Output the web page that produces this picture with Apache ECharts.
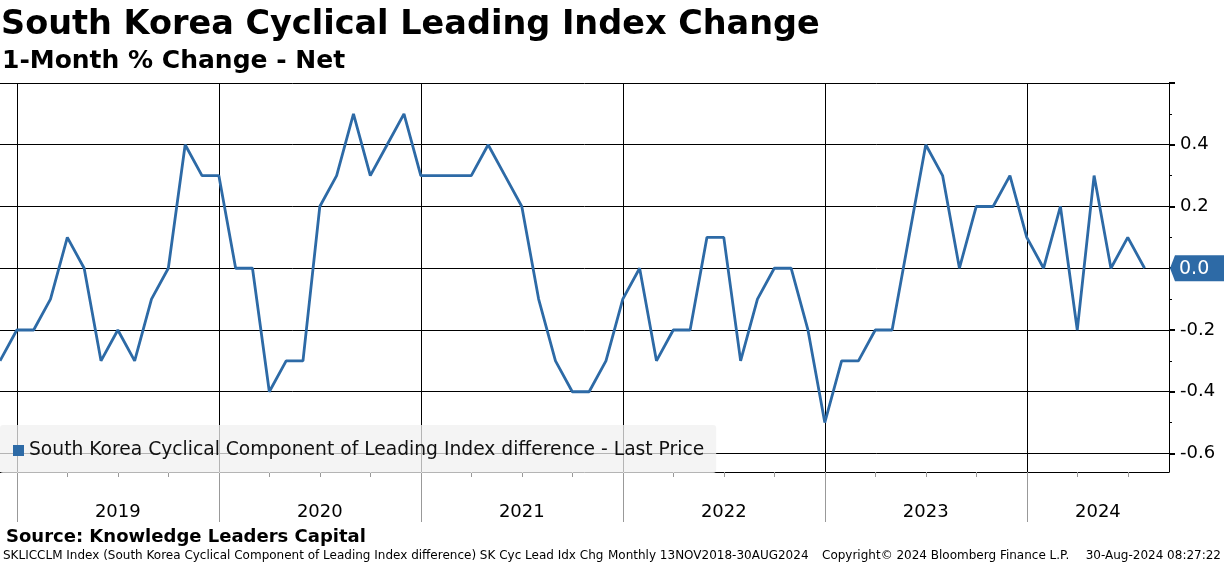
<!DOCTYPE html>
<html><head><meta charset="utf-8">
<script src="https://cdn.jsdelivr.net/npm/echarts@6/dist/echarts.min.js"></script>
<style>html,body{margin:0;padding:0;background:#fff}#c{width:1224px;height:566px}</style>
</head><body><div id="c"></div>
<script>
const titleText = 'South Korea Cyclical Leading Index Change';
const subtitleText = '1-Month % Change - Net';
const sourceText = 'Source: Knowledge Leaders Capital';
const footerLeft = 'SKLICCLM Index (South Korea Cyclical Component of Leading Index difference) SK Cyc Lead Idx Chg';
const footerMid = 'Monthly 13NOV2018-30AUG2024';
const footerCopy = 'Copyright\u00A9 2024 Bloomberg Finance L.P.';
const footerDate = '30-Aug-2024 08:27:22';
const seriesName = 'South Korea Cyclical Component of Leading Index difference - Last Price';

const startMonth = '2018-12';
const endAxisMonth = '2024-09';
const values = [
  -0.3,-0.2,-0.2,-0.1,0.1,0.0,-0.3,-0.2,-0.3,-0.1,0.0,0.4,0.3,
  0.3,0.0,0.0,-0.4,-0.3,-0.3,0.2,0.3,0.5,0.3,0.4,0.5,
  0.3,0.3,0.3,0.3,0.4,0.3,0.2,-0.1,-0.3,-0.4,-0.4,-0.3,
  -0.1,0.0,-0.3,-0.2,-0.2,0.1,0.1,-0.3,-0.1,0.0,0.0,-0.2,
  -0.5,-0.3,-0.3,-0.2,-0.2,0.1,0.4,0.3,0.0,0.2,0.2,0.3,
  0.1,0.0,0.2,-0.2,0.3,0.0,0.1,0.0
];
const yTicks = [-0.6,-0.4,-0.2,0,0.2,0.4,0.6];
const yLabels = [-0.6,-0.4,-0.2,0.2,0.4];
const yMinor = [-0.5,-0.3,-0.1,0.1,0.3,0.5];
const yearLabels = ['2019','2020','2021','2022','2023','2024'];

const FONT = 'DejaVu Sans';
const BLUE = '#2d6aa6';

const monthIndex = m => (parseInt(m.slice(0,4),10)-2019)*12 + parseInt(m.slice(5,7),10)-1;
const start = monthIndex(startMonth);
const data = values.map((v,i)=>[start + i, v]);
const xMin = start;
const xMax = monthIndex(endAxisMonth) + 0.45;
const yearStarts = yearLabels.map(y => monthIndex(y + '-01'));
const yearMids = yearStarts.map((s,i)=> (s + Math.min(i+1 < yearStarts.length ? yearStarts[i+1] : xMax, xMax)) / 2);
const quarterTicks = [];
for (let m = 0; m <= xMax; m += 3) quarterTicks.push(m);

const chart = echarts.init(document.getElementById('c'), null, {renderer:'canvas'});
chart.setOption({
  animation: false,
  backgroundColor: '#fff',
  title: [
    {text: titleText, left: 1, top: 8, padding: 0, textStyle: {fontFamily: FONT, fontWeight: 'bold', fontSize: 33.5, color: '#000'}},
    {text: subtitleText, left: 2, top: 49, padding: 0, textStyle: {fontFamily: FONT, fontWeight: 'bold', fontSize: 25, color: '#000'}},
    {text: sourceText, left: 6, top: 528, padding: 0, textStyle: {fontFamily: FONT, fontWeight: 'bold', fontSize: 18, color: '#000'}},
    {text: footerLeft, left: 3, top: 550, padding: 0, textStyle: {fontFamily: FONT, fontWeight: 'normal', fontSize: 12, color: '#000'}},
    {text: footerMid, left: 608, top: 550, padding: 0, textStyle: {fontFamily: FONT, fontWeight: 'normal', fontSize: 12, color: '#000'}},
    {text: footerCopy, left: 822, top: 550, padding: 0, textStyle: {fontFamily: FONT, fontWeight: 'normal', fontSize: 12, color: '#000'}},
    {text: footerDate, right: 3, top: 550, padding: 0, textStyle: {fontFamily: FONT, fontWeight: 'normal', fontSize: 12, color: '#000'}}
  ],
  legend: {
    left: 0, top: 425, orient: 'horizontal',
    padding: [16, 12, 13, 13],
    backgroundColor: 'rgba(240,240,240,0.75)',
    borderRadius: 3,
    icon: 'rect', itemWidth: 11, itemHeight: 11,
    textStyle: {fontFamily: FONT, fontSize: 18.7, color: '#111'},
    data: [{name: seriesName, itemStyle: {color: BLUE}}]
  },
  grid: {left: 0, right: 55, top: 83, bottom: 94, containLabel: false},
  xAxis: [
    {
      type: 'value', min: xMin, max: xMax, position: 'bottom',
      axisLine: {show: true, onZero: false, lineStyle: {color: '#000', width: 1}},
      axisTick: {show: true, customValues: yearStarts, length: 50, inside: false, lineStyle: {color: '#999', width: 1}},
      axisLabel: {show: true, customValues: yearMids, margin: 31, fontFamily: FONT, fontSize: 18, color: '#000',
        formatter: v => yearLabels[Math.min(yearLabels.length-1, Math.floor(v/12))]},
      splitLine: {show: true, lineStyle: {color: '#000', width: 1}}
    },
    {
      type: 'value', min: xMin, max: xMax, position: 'bottom',
      axisLine: {show: false, onZero: false},
      axisTick: {show: true, customValues: quarterTicks, length: 5, lineStyle: {color: '#999', width: 1}},
      axisLabel: {show: false},
      splitLine: {show: false}
    }
  ],
  yAxis: [
    {
      type: 'value', min: -0.66, max: 0.6, position: 'right',
      axisLine: {show: true, onZero: false, lineStyle: {color: '#000', width: 1}},
      axisTick: {show: true, customValues: yTicks, length: 6, lineStyle: {color: '#000', width: 2}},
      axisLabel: {show: true, customValues: yLabels, margin: 11, fontFamily: FONT, fontSize: 18, color: '#000',
        formatter: v => v.toFixed(1)},
      splitLine: {show: true, lineStyle: {color: '#000', width: 1}}
    },
    {
      type: 'value', min: -0.66, max: 0.6, position: 'right',
      axisLine: {show: false, onZero: false},
      axisTick: {show: true, customValues: yMinor, length: 3, lineStyle: {color: '#000', width: 1}},
      axisLabel: {show: false},
      splitLine: {show: false}
    }
  ],
  series: [{
    name: seriesName, type: 'line', xAxisIndex: 0, yAxisIndex: 0,
    data: data, showSymbol: false, symbol: 'none',
    lineStyle: {color: BLUE, width: 2.8}, itemStyle: {color: BLUE},
    z: 3
  }]
});

const last = values[values.length-1];
const py = chart.convertToPixel({yAxisIndex: 0}, last);
const px = chart.convertToPixel({xAxisIndex: 0}, xMax);
const W = chart.getWidth();
chart.setOption({graphic: [
  {type: 'polygon', z: 100, shape: {points: [[px+1, py], [px+6, py-13], [W, py-13], [W, py+13], [px+6, py+13]]}, style: {fill: BLUE}},
  {type: 'text', z: 101, x: px+10, y: py+1, style: {text: last.toFixed(1), fill: '#fff', font: '19px "DejaVu Sans"', verticalAlign: 'middle', align: 'left'}}
]});
</script></body></html>
